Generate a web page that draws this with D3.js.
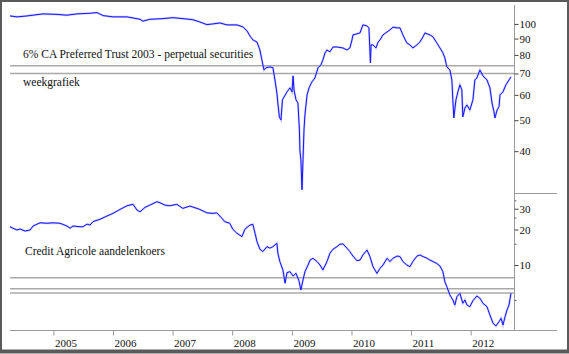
<!DOCTYPE html>
<html lang="en">
<head>
    <meta charset="UTF-8">
    <title>CA Preferred Trust / Credit Agricole</title>
    <script src="https://d3js.org/d3.v7.min.js"></script>
    <style>
        body { margin: 0; background: #fff; }
        text { font-family: 'Liberation Serif', 'Times New Roman', serif; fill: #111; }
        .axis-line { stroke: #9a9a9a; stroke-width: 1; }
        .level { stroke: #a9a9a9; stroke-width: 1.5; }
        .halo { fill: none; stroke: #9a9aff; stroke-width: 2.2; stroke-opacity: .55; }
        .price { fill: none; stroke: #1414ff; stroke-width: 1; }
    </style>
</head>
<body>
<script>
    const width  = 569;
    const height = 354;

    // 6% CA Preferred Trust 2003 (weekly)
    const prefDates = [
        "2004-04-10","2004-05-23","2004-07-23","2004-10-29","2005-01-23","2005-03-25","2005-05-26","2005-08-13",
        "2005-09-25","2005-11-01","2006-01-01","2006-03-28","2006-06-16","2006-07-03","2006-08-15","2006-11-03",
        "2007-01-03","2007-03-05","2007-05-05","2007-06-17","2007-07-30","2007-09-05","2007-10-18","2007-11-30",
        "2008-01-30","2008-03-07","2008-04-01","2008-04-19","2008-05-07","2008-06-01","2008-06-19","2008-07-01",
        "2008-07-14","2008-07-26","2008-08-19","2008-09-07","2008-09-19","2008-10-01","2008-10-07","2008-10-16",
        "2008-10-26","2008-11-04","2008-11-14","2008-12-02","2008-12-20","2009-01-02","2009-01-08","2009-01-14",
        "2009-01-26","2009-02-07","2009-02-16","2009-02-19","2009-02-25","2009-03-04","2009-03-10","2009-03-16",
        "2009-03-22","2009-04-04","2009-04-16","2009-05-04","2009-05-22","2009-06-10","2009-06-28","2009-07-10",
        "2009-07-23","2009-08-04","2009-08-22","2009-09-10","2009-10-04","2009-11-10","2009-12-04","2009-12-22",
        "2010-01-04","2010-01-10","2010-02-03","2010-02-22","2010-03-12","2010-04-06","2010-04-18","2010-04-27",
        "2010-05-01","2010-05-13","2010-05-31","2010-06-13","2010-06-25","2010-07-13","2010-08-07","2010-08-25",
        "2010-09-12","2010-10-07","2010-10-25","2010-11-12","2010-12-06","2010-12-25","2011-01-12","2011-02-06",
        "2011-02-24","2011-03-15","2011-03-27","2011-04-09","2011-04-27","2011-05-15","2011-06-08","2011-06-27",
        "2011-07-15","2011-07-27","2011-08-08","2011-08-27","2011-09-08","2011-09-14","2011-09-20","2011-10-03",
        "2011-10-15","2011-10-27","2011-11-08","2011-11-14","2011-11-27","2011-12-09","2011-12-27","2012-01-15",
        "2012-01-27","2012-02-08","2012-02-27","2012-03-16","2012-04-10","2012-04-28","2012-05-11","2012-05-23",
        "2012-05-29","2012-06-11","2012-06-23","2012-06-29","2012-07-17","2012-08-04","2012-08-23","2012-09-04"
    ];
    const prefValues = [
        105.9,105.2,105.9,107.5,107.1,106.5,107.5,108.0,
        108.5,106.2,105.2,105.2,103.4,102.0,103.4,103.9,
        104.6,103.9,103.1,101.4,99.5,100.0,100.7,99.3,
        99.3,97.9,95.1,91.7,89.1,87.8,82.9,77.2,
        71.8,72.9,73.4,72.9,66.8,60.8,56.6,51.2,
        50.1,57.9,59.1,61.3,63.1,61.3,68.8,62.2,
        57.9,56.6,46.6,40.4,37.6,30.3,37.6,46.6,
        52.0,60.0,63.1,65.9,67.8,72.9,74.5,77.2,
        81.2,82.9,81.8,84.7,84.7,84.1,82.9,84.1,
        89.1,92.4,93.1,93.7,99.3,98.6,97.2,75.5,
        86.0,86.0,84.1,87.8,89.1,92.4,94.4,95.8,
        97.7,97.2,97.2,92.4,87.2,86.0,84.1,86.0,
        87.8,91.1,93.7,93.1,92.4,91.1,87.2,84.1,
        81.2,78.3,73.4,71.8,66.8,57.9,50.8,57.9,
        61.3,64.5,62.2,51.2,54.6,55.8,53.8,57.9,
        66.8,67.8,71.8,68.8,66.8,63.1,56.6,53.1,
        50.8,53.8,55.1,60.0,61.3,64.5,66.8,68.3
    ];

    // Credit Agricole share price (weekly)
    const shareDates = [
        "2004-04-10","2004-04-28","2004-05-23","2004-06-11","2004-07-11","2004-08-11","2004-08-29","2004-10-11",
        "2004-11-23","2004-12-30","2005-02-10","2005-03-25","2005-04-13","2005-05-01","2005-06-13","2005-07-01",
        "2005-07-26","2005-08-13","2005-08-31","2005-10-13","2005-11-25","2006-01-01","2006-02-13","2006-03-28",
        "2006-05-04","2006-05-28","2006-06-16","2006-07-16","2006-08-15","2006-09-27","2006-10-16","2006-11-15",
        "2006-12-15","2007-01-27","2007-03-05","2007-04-17","2007-05-30","2007-06-17","2007-07-30","2007-09-05",
        "2007-09-29","2007-10-30","2007-11-17","2007-12-17","2008-01-05","2008-01-30","2008-03-01","2008-03-19",
        "2008-04-19","2008-05-07","2008-05-20","2008-06-01","2008-06-19","2008-07-07","2008-08-01","2008-08-19",
        "2008-09-07","2008-10-01","2008-10-07","2008-10-19","2008-11-07","2008-11-20","2008-12-02","2008-12-20",
        "2009-01-08","2009-01-26","2009-02-13","2009-02-25","2009-03-10","2009-03-22","2009-04-10","2009-04-22",
        "2009-05-10","2009-06-04","2009-06-22","2009-07-10","2009-08-04","2009-08-22","2009-09-10","2009-10-04",
        "2009-10-22","2009-11-10","2009-12-04","2009-12-22","2010-01-10","2010-02-03","2010-02-22","2010-03-12",
        "2010-04-06","2010-04-24","2010-05-13","2010-06-06","2010-06-25","2010-07-13","2010-08-07","2010-08-25",
        "2010-09-12","2010-10-07","2010-10-25","2010-11-12","2010-12-06","2010-12-25","2011-01-12","2011-02-06",
        "2011-02-24","2011-03-15","2011-04-09","2011-04-27","2011-05-15","2011-06-08","2011-06-27","2011-07-15",
        "2011-07-27","2011-08-08","2011-08-27","2011-09-14","2011-09-26","2011-10-09","2011-10-27","2011-11-14",
        "2011-11-27","2011-12-09","2011-12-27","2012-01-15","2012-02-08","2012-02-27","2012-03-16","2012-04-10",
        "2012-04-28","2012-05-17","2012-06-04","2012-06-23","2012-07-05","2012-07-17","2012-07-30","2012-08-11",
        "2012-08-23","2012-09-04"
    ];
    const shareValues = [
        21.1,20.5,19.8,20.2,19.4,19.8,21.4,22.8,
        22.6,22.8,22.6,21.4,20.5,21.4,21.1,21.1,
        22.2,21.8,23.3,24.4,26.0,27.4,29.6,31.8,
        32.7,29.2,28.3,30.8,32.2,34.4,33.7,32.2,
        31.8,32.7,30.2,31.6,30.2,29.6,27.7,27.4,
        27.7,24.9,23.3,22.6,20.1,18.6,17.4,20.1,
        21.8,22.1,18.6,15.8,13.6,13.0,14.3,13.9,
        14.3,15.3,12.6,10.7,9.07,7.0,8.61,8.78,
        8.07,8.5,7.36,6.14,7.46,8.78,10.0,11.0,
        11.4,10.7,10.0,9.07,10.7,12.6,13.6,14.3,
        15.0,15.1,13.9,13.0,11.9,10.9,11.0,12.15,
        13.4,11.8,9.67,8.5,9.38,10.0,11.4,10.7,
        11.4,11.9,11.8,10.7,10.0,9.67,10.7,11.9,
        12.15,11.8,11.4,11.0,10.7,10.3,9.8,8.78,
        7.22,6.55,5.57,5.05,4.58,5.39,5.75,4.74,
        5.05,4.58,4.43,4.98,5.46,5.22,4.74,4.43,
        3.77,3.21,3.04,3.31,3.53,3.1,3.65,4.16,
        4.58,5.75
    ];

    const prefTicks   = [100, 90, 80, 70, 60, 50, 40];
    const shareTicks  = [30, 20, 10];
    const shareMinor  = [35, 25, 15, 5];
    const prefLevels  = [74, 70];
    const shareLevels = [7.8, 6.3, 5.8];
    const yearTicks   = [2005, 2006, 2007, 2008, 2009, 2010, 2011, 2012];

    const parse = d3.timeParse("%Y-%m-%d");
    const pref  = prefDates.map((d, i) => ({date: parse(d), value: prefValues[i]}));
    const share = shareDates.map((d, i) => ({date: parse(d), value: shareValues[i]}));

    const left = 10, axisX = 514, right = 557, xAxisY = 330;
    const serif = "'Liberation Serif', 'Times New Roman', serif";

    const x = d3.scaleTime()
        .domain([new Date(2004, 3, 10), new Date(2013, 5, 13)])
        .range([left, right]);
    const yTop = d3.scaleLog().domain([29.6, 114.6]).range([193, 5]);
    const yBot = d3.scaleLog().domain([2.81, 40]).range([xAxisY, 194]);

    const svg = d3.select("body").append("svg").attr("width", width).attr("height", height);

    // frame
    svg.append("rect").attr("x", 1).attr("y", 1).attr("width", width - 2).attr("height", height - 4)
        .attr("fill", "none").attr("stroke", "#5a5a5a").attr("stroke-width", 2);
    svg.append("line").attr("x1", 0).attr("x2", width).attr("y1", 351.5).attr("y2", 351.5)
        .attr("stroke", "#5a5a5a").attr("stroke-width", 4);

    // horizontal reference levels
    svg.selectAll(".lvTop").data(prefLevels).join("line").attr("class", "level")
        .attr("x1", left).attr("x2", axisX)
        .attr("y1", d => yTop(d)).attr("y2", d => yTop(d));
    svg.selectAll(".lvBot").data(shareLevels).join("line").attr("class", "level")
        .attr("x1", left).attr("x2", axisX)
        .attr("y1", d => yBot(d)).attr("y2", d => yBot(d));

    // frame lines of the panels
    svg.append("line").attr("class", "axis-line").attr("x1", axisX + 0.5).attr("x2", axisX + 0.5).attr("y1", 5).attr("y2", xAxisY);
    svg.append("line").attr("class", "axis-line").attr("x1", axisX).attr("x2", right).attr("y1", 193.5).attr("y2", 193.5);

    // bottom time axis
    const xAxis = d3.axisBottom(x)
        .tickValues(yearTicks.map(y => new Date(y, 0, 1)))
        .tickSize(5)
        .tickFormat(d3.timeFormat("%Y"));
    const gx = svg.append("g").attr("transform", `translate(0,${xAxisY + 0.5})`).call(xAxis)
        .attr("font-family", serif);
    gx.select(".domain").attr("stroke", "#9a9a9a").attr("d", `M${left},0H${right}`);
    gx.selectAll(".tick line").attr("stroke", "#9a9a9a");
    gx.selectAll(".tick text")
        .attr("x", 1).attr("y", 9).attr("dy", "0.71em")
        .style("text-anchor", "start").style("font-size", "11px")
        .style("font-family", serif).attr("fill", "#111");

    // right value axes
    function rightAxis(scale, ticks, minor) {
        const g = svg.append("g").attr("transform", `translate(${axisX + 0.5},0)`);
        const ax = d3.axisRight(scale).tickValues(ticks).tickSize(4).tickPadding(1).tickFormat(d3.format("d"));
        g.call(ax).attr("font-family", serif);
        g.select(".domain").remove();
        g.selectAll(".tick line").attr("stroke", "#444");
        g.selectAll(".tick text").style("font-size", "11px")
            .style("font-family", serif).attr("fill", "#111");
        if (minor) {
            g.selectAll(".minor").data(minor).join("line")
                .attr("x1", 0).attr("x2", 2)
                .attr("y1", d => scale(d)).attr("y2", d => scale(d))
                .attr("stroke", "#666");
        }
    }
    rightAxis(yTop, prefTicks);
    rightAxis(yBot, shareTicks, shareMinor);

    // price lines
    const lineTop = d3.line().x(d => x(d.date)).y(d => yTop(d.value));
    const lineBot = d3.line().x(d => x(d.date)).y(d => yBot(d.value));

    [[pref, lineTop], [share, lineBot]].forEach(([data, line]) => {
        svg.append("path").attr("class", "halo").attr("d", line(data));
        svg.append("path").attr("class", "price").attr("d", line(data));
    });

    // labels
    svg.append("text").attr("x", 23).attr("y", 58).style("font-size", "11.5px")
        .text("6% CA Preferred Trust 2003 - perpetual securities");
    svg.append("text").attr("x", 23).attr("y", 86).style("font-size", "11.5px")
        .text("weekgrafiek");
    svg.append("text").attr("x", 25).attr("y", 255).style("font-size", "11.5px")
        .text("Credit Agricole aandelenkoers");
</script>
</body>
</html>
